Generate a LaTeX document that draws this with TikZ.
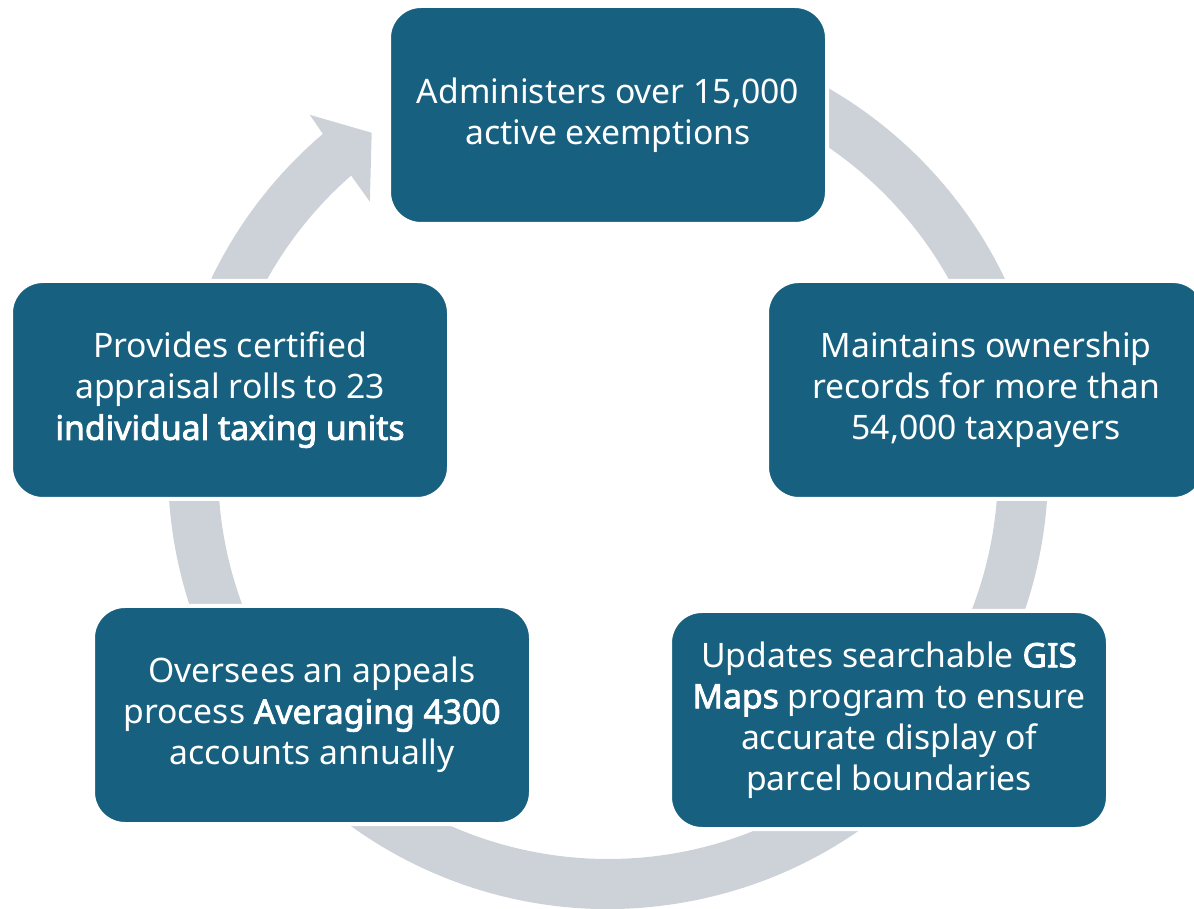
\documentclass[tikz,border=0pt]{standalone}
\usepackage{fontspec}
\setmainfont{Noto Sans}[AutoFakeBold=2.5]
\usepackage{tikz}
\usetikzlibrary{positioning, backgrounds, calc}
\definecolor{boxblue}{HTML}{17607F}
\definecolor{ringgray}{HTML}{CDD2D8}
\tikzset{
  cbox/.style={rectangle,rounded corners=32pt,draw=white,line width=4pt,fill=boxblue,text=white,align=center,minimum width=438pt,minimum height=218pt,font=\fontsize{33.7pt}{41pt}\selectfont},
  ring/.style={fill=ringgray}
}

\begin{document}
\begin{tikzpicture}[x=1pt,y=1pt]
  \useasboundingbox (0,0) rectangle (1194,908);
  \coordinate (hub) at (608,439);
  \node[cbox] (exempt) at (608,793) {Administers over 15,000\\active exemptions};
  \node[cbox] (owners) at (986,518) {Maintains ownership\\records for more than\\54,000 taxpayers};
  \node[cbox] (gis) at (889,188) {Updates searchable \textbf{GIS}\\\textbf{Maps} program to ensure\\accurate display of\\parcel boundaries};
  \node[cbox] (appeals) at (312,193) {Oversees an appeals\\process \textbf{Averaging 4300}\\accounts annually};
  \node[cbox] (rolls) at (230,518) {Provides certified\\appraisal rolls to 23\\\textbf{individual taxing units}};

  \begin{scope}[on background layer]
  \fill[ring] ($(hub)+(100:440)$) arc[start angle=100,end angle=-229.6,radius=440]
    -- ($(hub)+(130.1:463)$) -- ($(hub)+(125.1:411)$) -- ($(hub)+(131.7:358)$) -- ($(hub)+(131.2:390)$)
    arc[start angle=-228.8,end angle=100,radius=390] -- cycle;
  \end{scope}
\end{tikzpicture}
\end{document}
